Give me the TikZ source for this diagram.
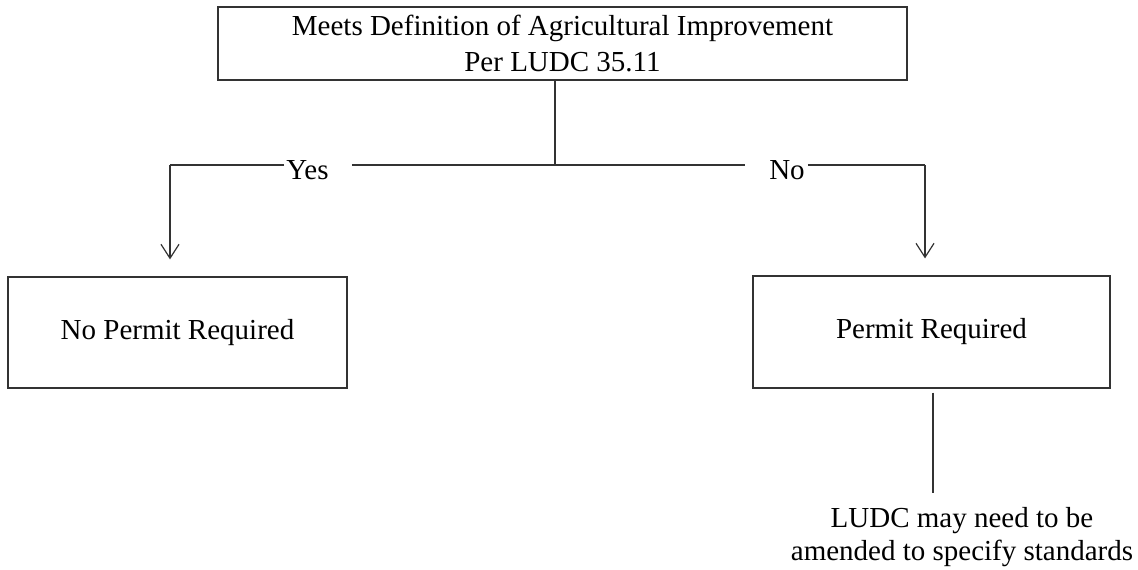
\documentclass[tikz,border=0pt]{standalone}
\usepackage{fontspec}
\setmainfont{Liberation Serif}
\usetikzlibrary{arrows.meta}
\begin{document}
\begin{tikzpicture}[x=1pt,y=-1pt,
  every node/.style={font=\fontsize{29}{35}\selectfont},
  box/.style={draw=black!80, line width=1.2pt, inner sep=0pt, align=center},
  lbl/.style={inner sep=0pt, anchor=base},
  ln/.style={draw=black!80, line width=1.2pt},
  arr/.style={ln, -{Straight Barb[length=14pt,width=18pt,line width=1.2pt]}, shorten >=17pt}]
\useasboundingbox (0,0) rectangle (1138,570);
% boxes
\node[box, minimum width=689pt, minimum height=73pt, font=\fontsize{29}{36}\selectfont] (top) at (562.5,43.5)
  {Meets Definition of Agricultural Improvement\\Per LUDC 35.11};
\node[box, minimum width=339pt, minimum height=111pt] (nop) at (177.5,332.5) {No Permit Required};
\node[box, minimum width=357pt, minimum height=112pt] (per) at (931.5,332) {Permit Required};
% labels
\node[lbl] (yes) at (307.5,179) {Yes};
\node[lbl] (no) at (787,179) {No};
\node[inner sep=0pt, anchor=north, align=center, font=\fontsize{29}{33}\selectfont] (ludc) at (962,507)
  {LUDC may need to be\\amended to specify standards};
% junction points
\coordinate (j) at (555,165);
\coordinate (lc) at (170,165);
\coordinate (rc) at (925,165);
\coordinate (e) at (933,493);
% connectors
\draw[ln] (top.south -| j) -- (j);
\draw[ln] ([xshift=-2pt]yes.west |- j) -- (lc);
\draw[ln] ([xshift=23pt]yes.east |- j) -- (j) -- ([xshift=-24pt]no.west |- j);
\draw[ln] ([xshift=3pt]no.east |- j) -- (rc);
\draw[arr] (lc) -- (lc |- nop.north);
\draw[arr] (rc) -- (rc |- per.north);
\draw[ln, shorten <=4pt] (e |- per.south) -- (e);
\end{tikzpicture}
\end{document}
